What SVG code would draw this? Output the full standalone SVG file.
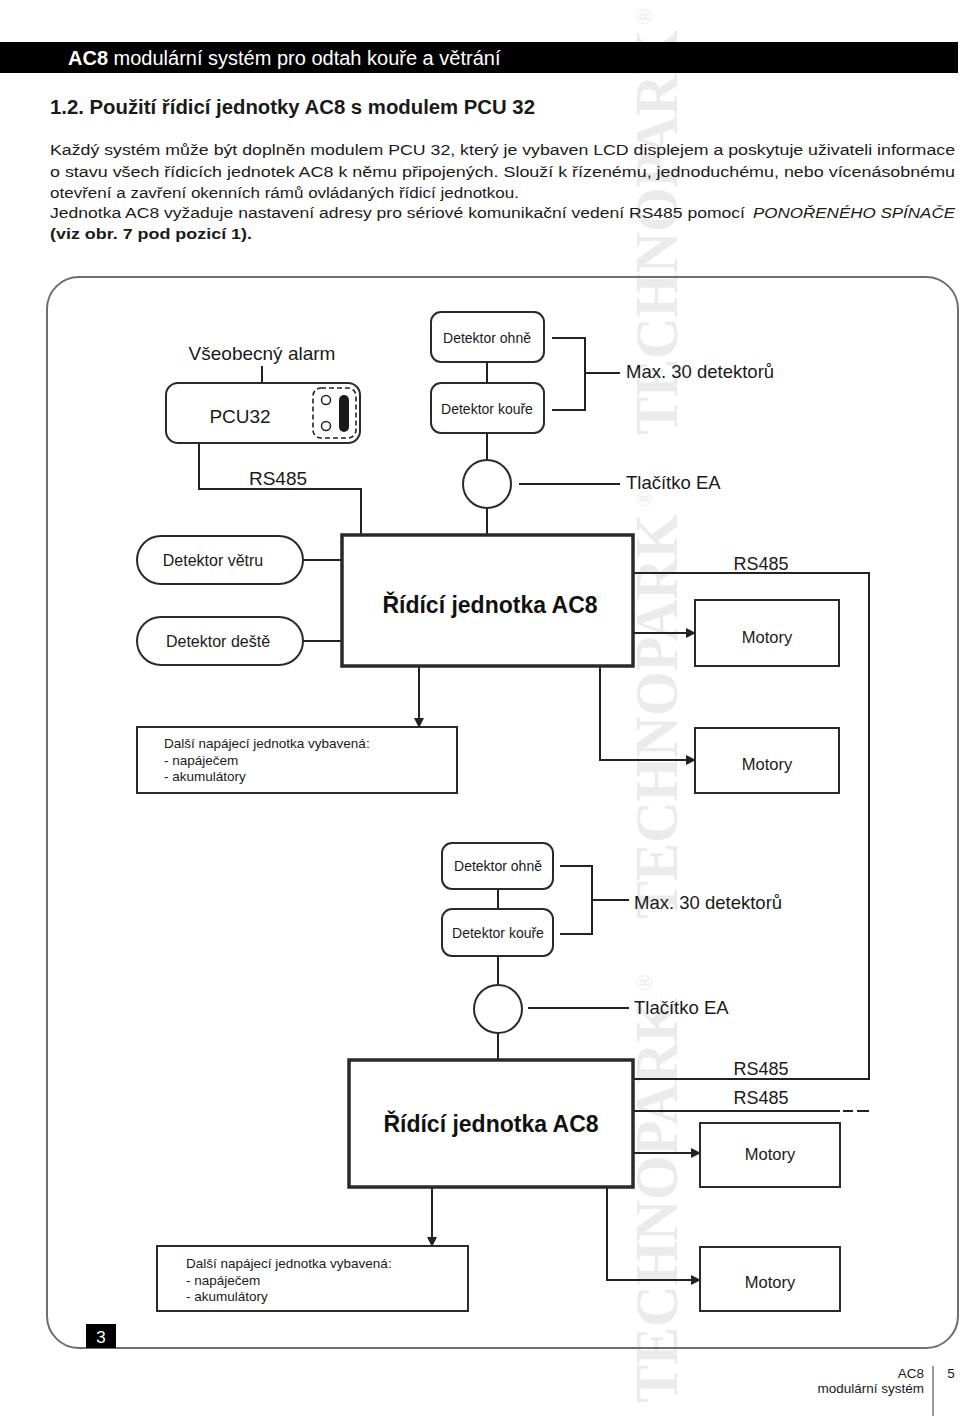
<svg xmlns="http://www.w3.org/2000/svg" width="960" height="1416" viewBox="0 0 960 1416">
<defs>
<style>
text{font-family:"Liberation Sans",Arial,sans-serif;fill:#1a1a1a}
.wm{font-family:"Liberation Serif","Times New Roman",serif;font-weight:bold;font-size:62px;fill:#ebebeb}
.wmr{font-family:"Liberation Serif",serif;font-size:22px;fill:#ebebeb}
.ln{fill:none;stroke:#222;stroke-width:2}
.box{fill:#fff;stroke:#2a2a2a;stroke-width:2}
.main{fill:#fff;stroke:#2a2a2a;stroke-width:3.5}
.lbl{font-size:18.5px}
.det{font-size:14px;text-anchor:middle}
.mot{font-size:16.5px;text-anchor:middle}
.big{font-size:23px;font-weight:bold;text-anchor:middle;fill:#111}
.pill{font-size:16px;text-anchor:middle}
.pw{font-size:13.5px}
.para{font-size:15.5px}
</style>
<marker id="ar" markerWidth="10" markerHeight="10" refX="9" refY="5" orient="auto" markerUnits="userSpaceOnUse">
<path d="M0,0 L10,5 L0,10 Z" fill="#222"/>
</marker>
</defs>
<rect width="960" height="1416" fill="#fff"/>
<!-- watermark -->
<g id="watermark">
<text class="wm" transform="translate(677,1403) rotate(-90)" textLength="405" lengthAdjust="spacingAndGlyphs">TECHNOPARK</text>
<text class="wmr" transform="translate(652,991) rotate(-90)">®</text>
<text class="wm" transform="translate(677,919) rotate(-90)" textLength="405" lengthAdjust="spacingAndGlyphs">TECHNOPARK</text>
<text class="wmr" transform="translate(652,507) rotate(-90)">®</text>
<text class="wm" transform="translate(677,435) rotate(-90)" textLength="405" lengthAdjust="spacingAndGlyphs">TECHNOPARK</text>
<text class="wmr" transform="translate(652,25) rotate(-90)">®</text>
</g>
<!-- header -->
<g id="header">
<rect x="0" y="42" width="958" height="31" fill="#000"/>
<text x="68" y="65" font-size="20" style="fill:#fff"><tspan font-weight="bold">AC8</tspan> modulární systém pro odtah kouře a větrání</text>
<text x="50" y="114" font-size="19.5" font-weight="bold" textLength="485" lengthAdjust="spacingAndGlyphs">1.2. Použití řídicí jednotky AC8 s modulem PCU 32</text>
<text class="para" x="50" y="155" textLength="905" lengthAdjust="spacingAndGlyphs">Každý systém může být doplněn modulem PCU 32, který je vybaven LCD displejem a poskytuje uživateli informace</text>
<text class="para" x="50" y="177" textLength="905" lengthAdjust="spacingAndGlyphs">o stavu všech řídicích jednotek AC8 k němu připojených. Slouží k řízenému, jednoduchému, nebo vícenásobnému</text>
<text class="para" x="50" y="198" textLength="469" lengthAdjust="spacingAndGlyphs">otevření a zavření okenních rámů ovládaných řídicí jednotkou.</text>
<text class="para" x="50" y="218" textLength="695" lengthAdjust="spacingAndGlyphs">Jednotka AC8 vyžaduje nastavení adresy pro sériové komunikační vedení RS485 pomocí</text>
<text class="para" x="753" y="218" font-style="italic" textLength="202" lengthAdjust="spacingAndGlyphs">PONOŘENÉHO SPÍNAČE</text>
<text class="para" x="50" y="239" font-weight="bold" textLength="202" lengthAdjust="spacingAndGlyphs">(viz obr. 7 pod pozicí 1).</text>
</g>
<!-- frame -->
<g id="frame">
<rect x="47" y="277" width="911" height="1071" rx="32" ry="32" fill="none" stroke="#6e6e6e" stroke-width="2"/>
<rect x="86" y="1324" width="30" height="24" fill="#000"/>
<text x="101" y="1343" font-size="17" text-anchor="middle" style="fill:#fff">3</text>
</g>
<!-- connectors -->
<g id="connectors">
<line class="ln" x1="262" y1="366" x2="262" y2="383"/>
<polyline class="ln" points="199,443 199,489 361,489 361,535"/>
<line class="ln" x1="487" y1="362" x2="487" y2="383"/>
<line class="ln" x1="487" y1="433" x2="487" y2="460"/>
<line class="ln" x1="487" y1="508" x2="487" y2="535"/>
<polyline class="ln" points="552,338 585,338 585,410 552,410"/>
<line class="ln" x1="585" y1="373" x2="620" y2="373"/>
<line class="ln" x1="519" y1="484" x2="620" y2="484"/>
<line class="ln" x1="303" y1="560" x2="342" y2="560"/>
<line class="ln" x1="303" y1="641" x2="342" y2="641"/>
<line class="ln" x1="419" y1="666" x2="419" y2="727" marker-end="url(#ar)"/>
<polyline class="ln" points="633,573 869,573 869,1079 633,1079"/>
<line class="ln" x1="633" y1="633" x2="695" y2="633" marker-end="url(#ar)"/>
<polyline class="ln" points="600,666 600,760 695,760" marker-end="url(#ar)"/>
<line class="ln" x1="498" y1="889" x2="498" y2="909"/>
<line class="ln" x1="498" y1="956" x2="498" y2="985"/>
<line class="ln" x1="498" y1="1033" x2="498" y2="1060"/>
<polyline class="ln" points="560,866 592,866 592,934 560,934"/>
<line class="ln" x1="592" y1="900" x2="629" y2="900"/>
<line class="ln" x1="528" y1="1008" x2="629" y2="1008"/>
<line class="ln" x1="633" y1="1111" x2="840" y2="1111"/>
<line class="ln" x1="843" y1="1111" x2="853" y2="1111"/>
<line class="ln" x1="857" y1="1111" x2="869" y2="1111"/>
<line class="ln" x1="633" y1="1153" x2="700" y2="1153" marker-end="url(#ar)"/>
<polyline class="ln" points="607,1187 607,1280 700,1280" marker-end="url(#ar)"/>
<line class="ln" x1="432" y1="1187" x2="432" y2="1246" marker-end="url(#ar)"/>
</g>
<!-- connector labels -->
<g id="labels">
<text x="262" y="360" font-size="19" text-anchor="middle">Všeobecný alarm</text>
<text x="278" y="485" font-size="19" text-anchor="middle">RS485</text>
<text class="lbl" x="626" y="378">Max. 30 detektorů</text>
<text class="lbl" x="626" y="489">Tlačítko EA</text>
<text x="761" y="570" font-size="18" text-anchor="middle">RS485</text>
<text class="lbl" x="634" y="909">Max. 30 detektorů</text>
<text class="lbl" x="634" y="1014">Tlačítko EA</text>
<text x="761" y="1075" font-size="18" text-anchor="middle">RS485</text>
<text x="761" y="1104" font-size="18" text-anchor="middle">RS485</text>
</g>
<!-- nodes section 1 -->
<g id="pcu32">
<rect class="box" x="166" y="383" width="194" height="60" rx="12"/>
<text x="240" y="423" font-size="19" text-anchor="middle">PCU32</text>
<rect x="313" y="388" width="43" height="50" rx="8" fill="none" stroke="#222" stroke-width="1.6" stroke-dasharray="5,3"/>
<circle cx="326" cy="400" r="4.5" fill="none" stroke="#222" stroke-width="1.5"/>
<circle cx="326" cy="426" r="4.5" fill="none" stroke="#222" stroke-width="1.5"/>
<rect x="339" y="395" width="10" height="37" rx="5" fill="#1a1a1a"/>
</g>
<g id="det-ohne-1">
<rect class="box" x="431" y="312" width="113" height="50" rx="10"/>
<text class="det" x="487" y="343">Detektor ohně</text>
</g>
<g id="det-koure-1">
<rect class="box" x="431" y="383" width="113" height="50" rx="10"/>
<text class="det" x="487" y="414">Detektor kouře</text>
</g>
<g id="btn-ea-1">
<circle class="box" cx="487" cy="484" r="24"/>
</g>
<g id="ac8-1">
<rect class="main" x="342" y="535" width="291" height="131"/>
<text class="big" x="490" y="613">Řídící jednotka AC8</text>
</g>
<g id="det-vetru">
<rect class="box" x="137" y="536" width="166" height="48" rx="24"/>
<text class="pill" x="213" y="566">Detektor větru</text>
</g>
<g id="det-deste">
<rect class="box" x="137" y="617" width="166" height="48" rx="24"/>
<text class="pill" x="218" y="647">Detektor deště</text>
</g>
<g id="psu-1">
<rect class="box" x="137" y="727" width="320" height="66"/>
<text class="pw" x="164" y="748">Další napájecí jednotka vybavená:</text>
<text class="pw" x="164" y="765">- napáječem</text>
<text class="pw" x="164" y="781">- akumulátory</text>
</g>
<g id="motory-1">
<rect class="box" x="695" y="600" width="144" height="66"/>
<text class="mot" x="767" y="643">Motory</text>
</g>
<g id="motory-2">
<rect class="box" x="695" y="728" width="144" height="65"/>
<text class="mot" x="767" y="770">Motory</text>
</g>
<!-- nodes section 2 -->
<g id="det-ohne-2">
<rect class="box" x="442" y="843" width="111" height="46" rx="10"/>
<text class="det" x="498" y="871">Detektor ohně</text>
</g>
<g id="det-koure-2">
<rect class="box" x="442" y="909" width="111" height="47" rx="10"/>
<text class="det" x="498" y="938">Detektor kouře</text>
</g>
<g id="btn-ea-2">
<circle class="box" cx="498" cy="1009" r="24"/>
</g>
<g id="ac8-2">
<rect class="main" x="349" y="1060" width="284" height="127"/>
<text class="big" x="491" y="1132">Řídící jednotka AC8</text>
</g>
<g id="psu-2">
<rect class="box" x="157" y="1246" width="311" height="65"/>
<text class="pw" x="186" y="1268">Další napájecí jednotka vybavená:</text>
<text class="pw" x="186" y="1285">- napáječem</text>
<text class="pw" x="186" y="1301">- akumulátory</text>
</g>
<g id="motory-3">
<rect class="box" x="700" y="1123" width="140" height="64"/>
<text class="mot" x="770" y="1160">Motory</text>
</g>
<g id="motory-4">
<rect class="box" x="700" y="1247" width="140" height="64"/>
<text class="mot" x="770" y="1288">Motory</text>
</g>
<!-- footer -->
<g id="footer">
<text x="924" y="1378" font-size="13.5" text-anchor="end">AC8</text>
<text x="924" y="1393" font-size="13.5" text-anchor="end">modulární systém</text>
<line x1="933" y1="1366" x2="933" y2="1416" stroke="#555" stroke-width="1.2"/>
<text x="951" y="1378" font-size="13.5" text-anchor="middle">5</text>
</g>
</svg>
